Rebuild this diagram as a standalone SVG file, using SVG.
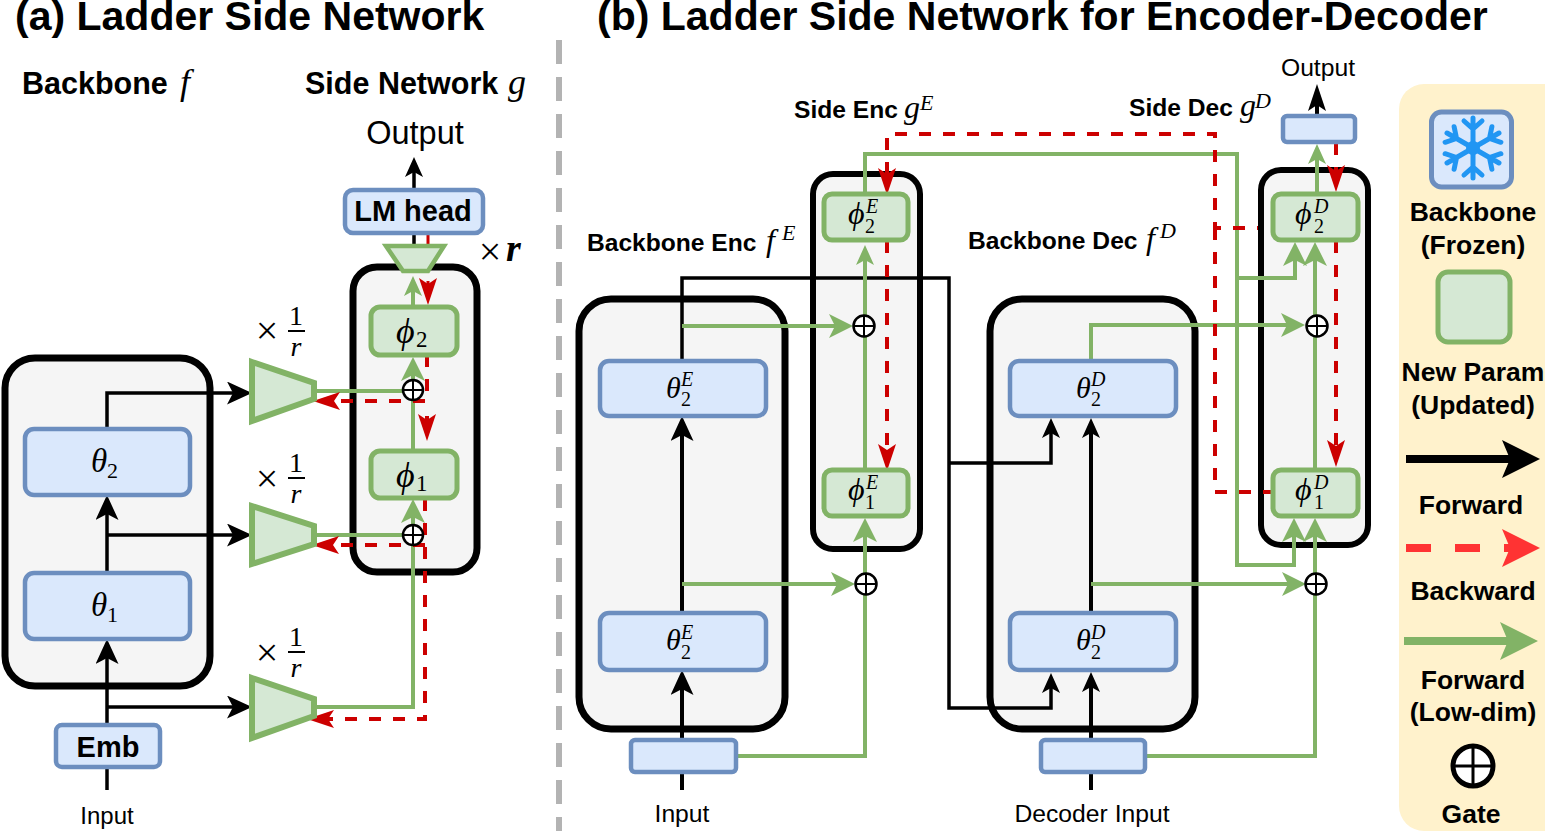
<svg xmlns="http://www.w3.org/2000/svg" width="1545" height="831" viewBox="0 0 1545 831">
<style>
.b{font-family:"Liberation Sans",Arial,sans-serif;font-weight:700;fill:#000}
.s{font-family:"Liberation Sans",Arial,sans-serif;fill:#000}
.m{font-family:"Liberation Serif","DejaVu Serif",serif;font-style:italic;fill:#000}
.n{font-family:"Liberation Serif","DejaVu Serif",serif;fill:#000}
.mid{text-anchor:middle}
.cont{fill:#f5f5f5;stroke:#000;stroke-width:7}
.blue{fill:#dae8fc;stroke:#6c8ebf;stroke-width:4.5}
.green{fill:#d5e8d4;stroke:#82b366;stroke-width:5}
.trap{fill:#d5e8d4;stroke:#82b366;stroke-width:6;stroke-linejoin:miter}
.k{fill:none;stroke:#000;stroke-width:3.5}
.g{fill:none;stroke:#82b366;stroke-width:4}
.r{fill:none;stroke:#cc0000;stroke-width:4;stroke-dasharray:12 12}
.gate circle{fill:#fff;stroke:#000;stroke-width:2.5}
.gate path{stroke:#000;stroke-width:2;fill:none}
</style>
<defs>
<marker id="ks" markerUnits="userSpaceOnUse" markerWidth="20" markerHeight="18" refX="5" refY="9" orient="auto"><path d="M20,9L0,0L5,9L0,18Z" fill="#000"/></marker>
<marker id="kb" markerUnits="userSpaceOnUse" markerWidth="25" markerHeight="23" refX="6" refY="11.5" orient="auto"><path d="M25,11.500L0,0L6,11.500L0,23Z" fill="#000"/></marker>
<marker id="kt" markerUnits="userSpaceOnUse" markerWidth="27" markerHeight="18" refX="6" refY="9" orient="auto"><path d="M27,9L0,0L6,9L0,18Z" fill="#000"/></marker>
<marker id="gs" markerUnits="userSpaceOnUse" markerWidth="20" markerHeight="18" refX="5" refY="9" orient="auto"><path d="M20,9L0,0L5,9L0,18Z" fill="#82b366"/></marker>
<marker id="gb" markerUnits="userSpaceOnUse" markerWidth="24" markerHeight="24" refX="6" refY="12" orient="auto"><path d="M24,12L0,0L6,12L0,24Z" fill="#82b366"/></marker>
<marker id="rr" markerUnits="userSpaceOnUse" markerWidth="27" markerHeight="18" refX="6" refY="9" orient="auto"><path d="M27,9L0,0L6,9L0,18Z" fill="#cc0000"/></marker>
</defs>

<text class="b" x="15" y="30" font-size="41">(a) Ladder Side Network</text>
<text class="b" x="597" y="30" font-size="41">(b) Ladder Side Network for Encoder-Decoder</text>
<path d="M559 40V831" fill="none" stroke="#b3b3b3" stroke-width="6" stroke-dasharray="24 13"/>

<g id="legend">
<rect x="1399" y="84" width="175" height="747" rx="25" fill="#fff2cc"/>
<rect class="blue" x="1431.500" y="112" width="80" height="75" rx="10" style="stroke-width:5"/>
<g transform="translate(1473 148)" fill="none" stroke="#2196f3" stroke-width="5" stroke-linecap="round">
<path d="M0,0V-30M0,-19L-9,-27M0,-19L9,-27"/>
<path d="M0,0V-30M0,-19L-9,-27M0,-19L9,-27" transform="rotate(60)"/>
<path d="M0,0V-30M0,-19L-9,-27M0,-19L9,-27" transform="rotate(120)"/>
<path d="M0,0V-30M0,-19L-9,-27M0,-19L9,-27" transform="rotate(180)"/>
<path d="M0,0V-30M0,-19L-9,-27M0,-19L9,-27" transform="rotate(240)"/>
<path d="M0,0V-30M0,-19L-9,-27M0,-19L9,-27" transform="rotate(300)"/>
<circle r="7" fill="#2196f3" stroke="none"/>
</g>
<text class="b mid" x="1473" y="221" font-size="26.500">Backbone</text>
<text class="b mid" x="1473" y="254" font-size="26.500">(Frozen)</text>
<rect class="green" x="1438" y="272" width="72" height="70" rx="10"/>
<text class="b mid" x="1473" y="381" font-size="26.500">New Param</text>
<text class="b mid" x="1473" y="414" font-size="26.500">(Updated)</text>
<path d="M1406 459H1512" stroke="#000" stroke-width="8"/>
<path d="M1540 459L1502 440L1510 459L1502 478Z" fill="#000"/>
<text class="b mid" x="1471" y="514" font-size="26.500">Forward</text>
<path d="M1406 548H1512" stroke="#ff3333" stroke-width="8" stroke-dasharray="25 24"/>
<path d="M1540 548L1502 529L1510 548L1502 567Z" fill="#ff3333"/>
<text class="b mid" x="1473" y="600" font-size="26.500">Backward</text>
<path d="M1404 641H1510" stroke="#82b366" stroke-width="8"/>
<path d="M1538 641L1500 622L1508 641L1500 660Z" fill="#82b366"/>
<text class="b mid" x="1473" y="689" font-size="26.500">Forward</text>
<text class="b mid" x="1473" y="721" font-size="26.500">(Low-dim)</text>
<circle cx="1473" cy="766" r="20" fill="#fff" stroke="#000" stroke-width="5"/>
<path d="M1453 766H1493M1473 746V786" stroke="#000" stroke-width="3"/>
<text class="b mid" x="1471" y="823" font-size="26.500">Gate</text>
</g>

<g id="backbone-a"><rect class="cont" x="5" y="358" width="205" height="328" rx="30"/></g>
<g id="side-a"><rect class="cont" x="353" y="267" width="124" height="305" rx="24"/></g>
<g id="backbone-enc"><rect class="cont" x="579" y="299" width="206" height="430" rx="32"/></g>
<g id="backbone-dec"><rect class="cont" x="990" y="299" width="205" height="430" rx="32"/></g>
<g id="side-enc"><rect class="cont" x="813" y="174" width="107" height="375" rx="20" style="stroke-width:6"/></g>
<g id="side-dec"><rect class="cont" x="1261" y="170" width="107" height="375" rx="20" style="stroke-width:6"/></g>

<g id="connectors">
<path class="k" d="M107 790V767"/>
<path class="k" marker-end="url(#kb)" d="M107 725V658"/>
<path class="k" marker-end="url(#kb)" d="M107 573V514"/>
<path class="k" d="M107 429V393H233" marker-end="url(#kb)"/>
<path class="k" d="M107 535H233" marker-end="url(#kb)"/>
<path class="k" d="M107 707H233" marker-end="url(#kb)"/>
<path class="k" d="M414 190V172" marker-end="url(#ks)"/>
<path class="k" d="M414 271V233"/>

<path class="g" d="M313 707H413V545"/>
<path class="g" d="M413 525V518M413 450V400"/>
<path class="g" d="M413 525V517" marker-end="url(#gb)"/>
<path class="g" d="M413 380V375" marker-end="url(#gb)"/>
<path class="g" d="M313 391H403M313 535H403"/>
<path class="g" d="M413 307V291" marker-end="url(#gs)"/>

<path class="r" d="M428 233V284" marker-end="url(#rr)" style="stroke-width:3"/>
<path class="r" d="M427 355V401H334" marker-end="url(#rr)"/>
<path class="r" d="M427 416V420" marker-end="url(#rr)" style="stroke-dasharray:none"/>
<path class="r" d="M425 499V719H328" marker-end="url(#rr)"/>
<path class="r" d="M425 545H333" marker-end="url(#rr)"/>

<path class="k" d="M682 790V772" style="stroke-width:4"/>
<path class="k" d="M682 740V689" marker-end="url(#kb)" style="stroke-width:4"/>
<path class="k" d="M682 613V435" marker-end="url(#kb)" style="stroke-width:4"/>
<path class="k" d="M682 361V278H949V708H1051V688" marker-end="url(#ks)"/>
<path class="k" d="M949 463H1051V433" marker-end="url(#ks)"/>
<path class="k" d="M1091 790V772" style="stroke-width:4"/>
<path class="k" d="M1091 740V687" marker-end="url(#ks)" style="stroke-width:4"/>
<path class="k" d="M1091 613V433" marker-end="url(#ks)" style="stroke-width:4"/>
<path class="k" d="M1317 115V105" marker-end="url(#kt)" style="stroke-width:4"/>

<path class="g" d="M736 756H865V594"/>
<path class="g" d="M865 574V536" marker-end="url(#gb)"/>
<path class="g" d="M865 469V336"/>
<path class="g" d="M865 316V260" marker-end="url(#gs)"/>
<path class="g" d="M682 326H835" marker-end="url(#gb)"/>
<path class="g" d="M682 584H837" marker-end="url(#gb)"/>
<path class="g" d="M865 193V154H1237V565H1294V536" marker-end="url(#gb)"/>
<path class="g" d="M1237 278H1295V260" marker-end="url(#gb)"/>
<path class="g" d="M1091 361V325H1287" marker-end="url(#gb)"/>
<path class="g" d="M1091 584H1288" marker-end="url(#gb)"/>
<path class="g" d="M1145 756H1315V594"/>
<path class="g" d="M1315 574V536" marker-end="url(#gb)"/>
<path class="g" d="M1315 470V336"/>
<path class="g" d="M1315 316V260" marker-end="url(#gb)"/>
<path class="g" d="M1317 194V159" marker-end="url(#gs)"/>

<path class="r" d="M887 174V134H1215V228H1258"/>
<path class="r" d="M887 171V174" marker-end="url(#rr)" style="stroke-dasharray:none"/>
<path class="r" d="M887 241V450" marker-end="url(#rr)"/>
<path class="r" d="M1215 228V492H1273"/>
<path class="r" d="M1336 143V171" marker-end="url(#rr)"/>
<path class="r" d="M1336 241V446" marker-end="url(#rr)"/>
</g>

<g id="trap-3"><path class="trap" d="M252 678L314 699V716L252 738Z"/></g>
<g id="trap-2"><path class="trap" d="M252 506L314 526V544L252 564Z"/></g>
<g id="trap-1"><path class="trap" d="M252 362L314 383V399L252 421Z"/></g>
<g id="trap-top"><path class="trap" d="M386 246H444L428 271H403Z" style="stroke-width:4.500"/></g>

<g id="theta2-a"><rect class="blue" x="25" y="429" width="165" height="66" rx="9"/><text class="m" x="91" y="472" font-size="33">θ</text><text class="n" x="107" y="478" font-size="22">2</text></g>
<g id="theta1-a"><rect class="blue" x="25" y="573" width="165" height="66" rx="9"/><text class="m" x="91" y="616" font-size="33">θ</text><text class="n" x="107" y="622" font-size="22">1</text></g>
<g id="emb"><rect class="blue" x="56" y="725" width="104" height="42" rx="6"/><text class="b mid" x="108" y="757" font-size="29">Emb</text></g>
<g id="lmhead"><rect class="blue" x="345" y="190" width="138" height="43" rx="8"/><text class="b mid" x="413" y="221" font-size="29">LM head</text></g>
<g id="phi2-a"><rect class="green" x="371" y="307" width="86" height="48" rx="9"/><text class="m" x="396" y="343" font-size="36">ϕ</text><text class="n" x="416" y="347" font-size="23">2</text></g>
<g id="phi1-a"><rect class="green" x="371" y="451" width="86" height="47" rx="9"/><text class="m" x="396" y="487" font-size="36">ϕ</text><text class="n" x="416" y="491" font-size="23">1</text></g>
<g id="gate-a2" class="gate"><circle cx="413" cy="390" r="10"/><path d="M403 390H423M413 380V400"/></g>
<g id="gate-a1" class="gate"><circle cx="413" cy="535" r="10"/><path d="M403 535H423M413 525V545"/></g>

<g id="theta-enc-2"><rect class="blue" x="600" y="361" width="166" height="55" rx="9"/><text class="m" x="666" y="398" font-size="30">θ</text><text class="m" x="681" y="386" font-size="20">E</text><text class="n" x="681" y="406" font-size="20">2</text></g>
<g id="theta-enc-1"><rect class="blue" x="600" y="613" width="166" height="57" rx="9"/><text class="m" x="666" y="650" font-size="30">θ</text><text class="m" x="681" y="639" font-size="20">E</text><text class="n" x="681" y="659" font-size="20">2</text></g>
<g id="enc-input"><rect class="blue" x="631" y="740" width="105" height="32" rx="4"/></g>
<g id="theta-dec-2"><rect class="blue" x="1010" y="361" width="166" height="55" rx="9"/><text class="m" x="1076" y="398" font-size="30">θ</text><text class="m" x="1091" y="386" font-size="20">D</text><text class="n" x="1091" y="406" font-size="20">2</text></g>
<g id="theta-dec-1"><rect class="blue" x="1010" y="613" width="166" height="57" rx="9"/><text class="m" x="1076" y="650" font-size="30">θ</text><text class="m" x="1091" y="639" font-size="20">D</text><text class="n" x="1091" y="659" font-size="20">2</text></g>
<g id="dec-input"><rect class="blue" x="1041" y="740" width="104" height="32" rx="4"/></g>
<g id="out-box"><rect class="blue" x="1283" y="116" width="72" height="26" rx="4"/></g>

<g id="phi-enc-2"><rect class="green" x="824" y="194" width="84" height="46" rx="8"/><text class="m" x="848" y="224" font-size="32">ϕ</text><text class="m" x="866" y="213" font-size="20">E</text><text class="n" x="865" y="233" font-size="20">2</text></g>
<g id="phi-enc-1"><rect class="green" x="824" y="470" width="84" height="46" rx="8"/><text class="m" x="848" y="500" font-size="32">ϕ</text><text class="m" x="866" y="489" font-size="20">E</text><text class="n" x="865" y="509" font-size="20">1</text></g>
<g id="phi-dec-2"><rect class="green" x="1273" y="194" width="85" height="46" rx="8"/><text class="m" x="1295" y="224" font-size="32">ϕ</text><text class="m" x="1314" y="213" font-size="20">D</text><text class="n" x="1314" y="233" font-size="20">2</text></g>
<g id="phi-dec-1"><rect class="green" x="1273" y="470" width="85" height="46" rx="8"/><text class="m" x="1295" y="500" font-size="32">ϕ</text><text class="m" x="1314" y="489" font-size="20">D</text><text class="n" x="1314" y="509" font-size="20">1</text></g>

<g id="gate-e2" class="gate"><circle cx="864" cy="326" r="10.500"/><path d="M853.500 326H874.500M864 315.500V336.500"/></g>
<g id="gate-e1" class="gate"><circle cx="866" cy="584" r="10.500"/><path d="M855.500 584H876.500M866 573.500V594.500"/></g>
<g id="gate-d2" class="gate"><circle cx="1317" cy="326" r="10.500"/><path d="M1306.500 326H1327.500M1317 315.500V336.500"/></g>
<g id="gate-d1" class="gate"><circle cx="1316" cy="584" r="10.500"/><path d="M1305.500 584H1326.500M1316 573.500V594.500"/></g>

<g id="labels">
<text class="b" x="22" y="94" font-size="30.500">Backbone</text><text class="m" x="180" y="94" font-size="36">f</text>
<text class="b" x="305" y="94" font-size="30.500">Side Network</text><text class="m" x="508" y="94" font-size="36">g</text>
<text class="s mid" x="415" y="144" font-size="32.500">Output</text>
<text class="s mid" x="107" y="824" font-size="24">Input</text>
<text class="n mid" x="490" y="265" font-size="40">×</text><text class="m" x="506" y="261" font-size="38" font-weight="700">r</text>
<text class="n mid" x="267" y="344" font-size="40">×</text><text class="n mid" x="296" y="325" font-size="28">1</text><path d="M288 331H305" stroke="#000" stroke-width="2"/><text class="m mid" x="296" y="356" font-size="28">r</text>
<text class="n mid" x="267" y="492" font-size="40">×</text><text class="n mid" x="296" y="472" font-size="28">1</text><path d="M288 478H305" stroke="#000" stroke-width="2"/><text class="m mid" x="296" y="503" font-size="28">r</text>
<text class="n mid" x="267" y="666" font-size="40">×</text><text class="n mid" x="296" y="646" font-size="28">1</text><path d="M288 652H305" stroke="#000" stroke-width="2"/><text class="m mid" x="296" y="677" font-size="28">r</text>
<text class="b" x="794" y="118" font-size="24.600">Side Enc</text><text class="m" x="904" y="118" font-size="32">g</text><text class="m" x="920" y="110" font-size="22">E</text>
<text class="b" x="1129" y="116" font-size="24.600">Side Dec</text><text class="m" x="1240" y="116" font-size="32">g</text><text class="m" x="1255" y="108" font-size="22">D</text>
<text class="b" x="587" y="251" font-size="24.600">Backbone Enc</text><text class="m" x="766" y="251" font-size="32">f</text><text class="m" x="782" y="240" font-size="22">E</text>
<text class="b" x="968" y="249" font-size="24.600">Backbone Dec</text><text class="m" x="1146" y="249" font-size="32">f</text><text class="m" x="1160" y="238" font-size="22">D</text>
<text class="s mid" x="1318" y="76" font-size="24.700">Output</text>
<text class="s mid" x="682" y="822" font-size="24.700">Input</text>
<text class="s mid" x="1092" y="822" font-size="24.700">Decoder Input</text>
</g>
</svg>
